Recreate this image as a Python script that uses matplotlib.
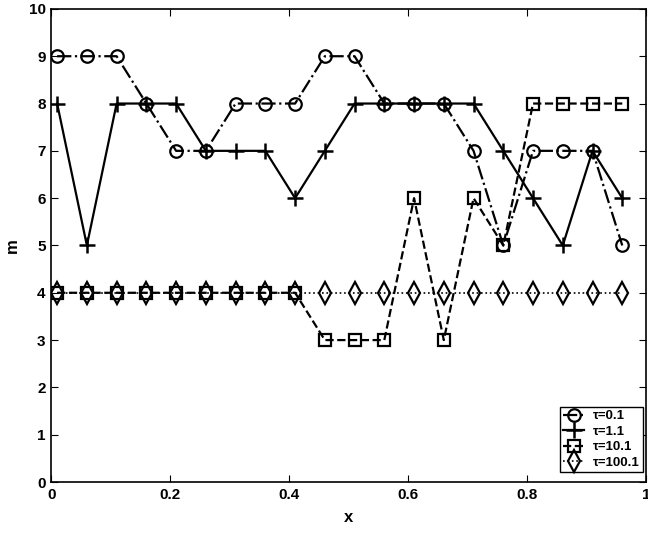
import matplotlib
matplotlib.use("Agg")
import matplotlib.pyplot as plt
import numpy as np

plt.rcParams['font.family'] = ['Liberation Sans', 'DejaVu Sans']
plt.rcParams['font.weight'] = 'bold'

x = [0.01, 0.06, 0.11, 0.16, 0.21, 0.26, 0.31, 0.36, 0.41, 0.46,
     0.51, 0.56, 0.61, 0.66, 0.71, 0.76, 0.81, 0.86, 0.91, 0.96]
m_tau01 = [9, 9, 9, 8, 7, 7, 8, 8, 8, 9, 9, 8, 8, 8, 7, 5, 7, 7, 7, 5]
m_tau11 = [8, 5, 8, 8, 8, 7, 7, 7, 6, 7, 8, 8, 8, 8, 8, 7, 6, 5, 7, 6]
m_tau101 = [4, 4, 4, 4, 4, 4, 4, 4, 4, 3, 3, 3, 6, 3, 6, 5, 8, 8, 8, 8]
m_tau1001 = [4] * 20
labels = ['τ=0.1', 'τ=1.1', 'τ=10.1', 'τ=100.1']

fig = plt.figure(figsize=(6.48, 5.37), dpi=100)
ax = fig.add_axes([0.079, 0.1024, 0.918, 0.881])

ax.plot(x, m_tau01, linestyle='-.', marker='o', label=labels[0],
        color='black', markerfacecolor='none', markeredgecolor='black',
        markersize=9, markeredgewidth=1.6, linewidth=1.6)
ax.plot(x, m_tau11, linestyle='-', marker='+', label=labels[1],
        color='black', markersize=11, markeredgewidth=1.8, linewidth=1.6)
ax.plot(x, m_tau101, linestyle='--', marker='s', label=labels[2],
        color='black', markerfacecolor='none', markeredgecolor='black',
        markersize=8, markeredgewidth=1.6, linewidth=1.6)
ax.plot(x, m_tau1001, linestyle=':', marker='d', label=labels[3],
        color='black', markerfacecolor='none', markeredgecolor='black',
        markersize=11, markeredgewidth=1.6, linewidth=1.2)

ax.set_xlim(0, 1)
ax.set_ylim(0, 10)
ax.set_xticks([0, 0.2, 0.4, 0.6, 0.8, 1])
ax.set_xticklabels(['0', '0.2', '0.4', '0.6', '0.8', '1'])
ax.set_yticks(range(0, 11))
ax.tick_params(direction='in', top=True, right=True, labelsize=11,
               width=0.8, length=5, pad=4)
for lab in ax.get_xticklabels() + ax.get_yticklabels():
    lab.set_fontweight('bold')
for s in ax.spines.values():
    s.set_linewidth(1.2)
ax.set_xlabel('x', fontsize=12, fontweight='bold', labelpad=6)
ax.set_ylabel('m', fontsize=12, fontweight='bold', labelpad=6)

leg = ax.legend(loc='lower right', frameon=True, fancybox=False,
                edgecolor='black', framealpha=1, handlelength=1.6,
                borderpad=0.25, labelspacing=0.25, handletextpad=0.7,
                borderaxespad=0.2,
                prop={'weight': 'bold', 'size': 9.5},
                bbox_to_anchor=(1.0, 0.015))
leg.get_frame().set_linewidth(1.0)

fig.savefig('out.png', dpi=100)
